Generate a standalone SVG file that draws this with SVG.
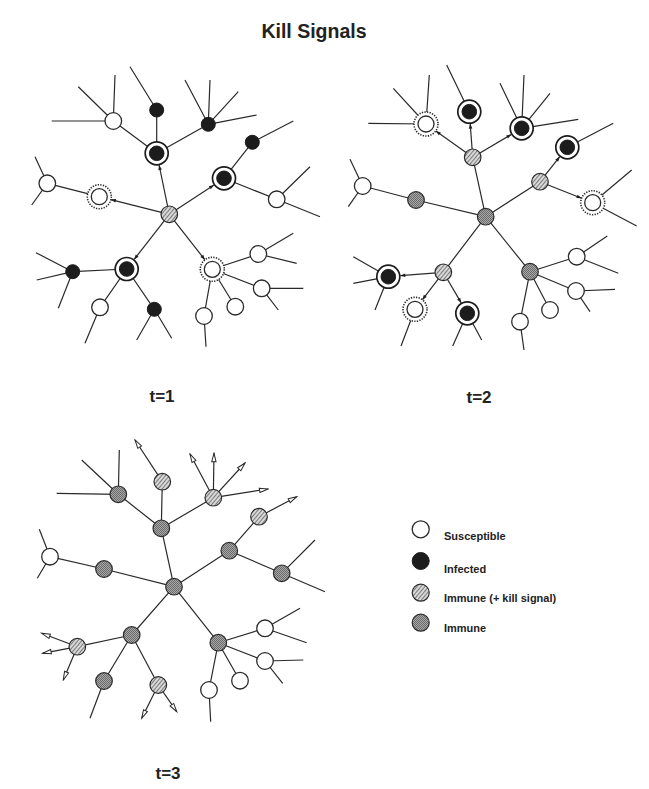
<svg xmlns="http://www.w3.org/2000/svg" width="649" height="789" viewBox="0 0 649 789">
<style>
.e{stroke:#2a2a2a;stroke-width:1.2;fill:none}
.ka{stroke:#2a2a2a;stroke-width:1.2;fill:none;marker-end:url(#ah)}
.oa{stroke:#2a2a2a;stroke-width:1.2;fill:none;marker-end:url(#open)}
.s{fill:#fff;stroke:#2a2a2a;stroke-width:1.3}
.i{fill:#1c1c1c;stroke:#1c1c1c;stroke-width:1}
.h{fill:url(#hatch);stroke:#2a2a2a;stroke-width:1.2}
.m{fill:url(#stip);stroke:#2a2a2a;stroke-width:1.2}
.ring{fill:#fff;stroke:#1c1c1c;stroke-width:1.7}
.dring{fill:#fff;stroke:#2a2a2a;stroke-width:1.6;stroke-dasharray:1.3 1.3}
text{font-family:"Liberation Sans",Arial,Helvetica,sans-serif;font-weight:bold;fill:#222}
.t{font-size:17px;text-anchor:middle}
.lg{font-size:11px}
</style>
<defs>
<pattern id="hatch" width="3" height="3" patternUnits="userSpaceOnUse" patternTransform="rotate(40)"><rect width="3" height="3" fill="#d8d8d8"/><rect width="1" height="3" fill="#7a7a7a"/></pattern>
<pattern id="stip" width="2" height="2" patternUnits="userSpaceOnUse"><rect width="2" height="2" fill="#a8a8a8"/><rect width="1" height="1" fill="#6a6a6a"/><rect x="1" y="1" width="1" height="1" fill="#6a6a6a"/></pattern>
<marker id="ah" markerUnits="userSpaceOnUse" markerWidth="8" markerHeight="8" viewBox="0 0 8 8" refX="7" refY="4" orient="auto"><path d="M2,2.2 L7,4 L2,5.8 Z" fill="#1c1c1c"/></marker>
<marker id="open" markerUnits="userSpaceOnUse" markerWidth="12" markerHeight="10" viewBox="0 0 12 10" refX="10.5" refY="5" orient="auto"><path d="M2,2.8 L10.5,5 L2,7.2 Z" fill="#fff" stroke="#2a2a2a" stroke-width="1"/></marker>
</defs>
<rect width="649" height="789" fill="#fff"/>
<text x="314" y="37.5" style="font-size:19.5px;text-anchor:middle">Kill Signals</text>

<g id="connectors">
<!-- t=1 -->
<line class="ka" x1="169.3" y1="214.3" x2="159.1" y2="165"/>
<line class="ka" x1="169.3" y1="214.3" x2="214" y2="184.9"/>
<line class="ka" x1="169.3" y1="214.3" x2="110.9" y2="199.6"/>
<line class="ka" x1="169.3" y1="214.3" x2="134.1" y2="259.5"/>
<line class="ka" x1="169.3" y1="214.3" x2="204.9" y2="259.8"/>
<path class="e" d="M156.7,153.3L156.7,110M156.7,153.3L113.3,121M156.7,153.3L208.3,124.3M156.7,110L130,66.7M113.3,121L51.7,121M113.3,121L78.3,86.7M113.3,121L115,75M208.3,124.3L185,80M208.3,124.3L210,80M208.3,124.3L238.3,91.7M208.3,124.3L256.7,115M224,178.3L252.3,142.3M252.3,142.3L293.3,121M224,178.3L276.7,199.3M276.7,199.3L310,166.7M276.7,199.3L320,216.7M99.3,196.7L47.3,183.3M47.3,183.3L35,156.7M47.3,183.3L31.7,205M126.7,269L72.7,271.7M126.7,269L100,307.3M126.7,269L154.3,309.3M72.7,271.7L36,252.7M72.7,271.7L36.7,280M72.7,271.7L58.3,308.3M100,307.3L85,343.3M154.3,309.3L136.7,340M154.3,309.3L171.7,338.3M212.3,269.3L258.3,254M212.3,269.3L261.7,288.3M212.3,269.3L235.3,306.7M212.3,269.3L204,316M258.3,254L293.3,233.3M258.3,254L296.7,263.3M261.7,288.3L303.3,288.3M261.7,288.3L278.3,310M204,316L206,346.7"/>
<!-- t=2 -->
<path class="e" d="M485.7,216.7L472.7,157.3M485.7,216.7L540,181.7M485.7,216.7L416,200M485.7,216.7L443.3,272.3M485.7,216.7L530,271.7M469.3,111.7L446.7,65M426,124L393.3,88.3M426,124L429.3,75M426,124L368.3,123.3M521.7,128.3L500,83.3M521.7,128.3L524,75M521.7,128.3L550,93.3M521.7,128.3L578.3,119.3M567.3,147.3L613.3,123.3M592.7,202.7L631.7,170M592.7,202.7L636.7,226M416,200L362.7,186M362.7,186L350,159.3M362.7,186L348.3,206.7M388.3,276.7L353.3,256.7M388.3,276.7L353.3,283.3M388.3,276.7L375,310M415,309.3L401,346M467.3,313.3L452.7,346M467.3,313.3L481.7,340M530,271.7L576.7,256.7M530,271.7L576,291M530,271.7L550,310M530,271.7L520,321.7M576.7,256.7L607.3,236M576.7,256.7L618.3,273.3M576,291L615,289.3M576,291L590,311.7M520,321.7L524,350"/>
<line class="ka" x1="472.7" y1="157.3" x2="470.2" y2="123.7"/>
<line class="ka" x1="472.7" y1="157.3" x2="435.8" y2="131"/>
<line class="ka" x1="472.7" y1="157.3" x2="511.4" y2="134.4"/>
<line class="ka" x1="540" y1="181.7" x2="559.8" y2="156.7"/>
<line class="ka" x1="540" y1="181.7" x2="581.6" y2="198.3"/>
<line class="ka" x1="443.3" y1="272.3" x2="400.3" y2="275.7"/>
<line class="ka" x1="443.3" y1="272.3" x2="422.3" y2="299.8"/>
<line class="ka" x1="443.3" y1="272.3" x2="461.2" y2="302.9"/>
<!-- t=3 -->
<path class="e" d="M174,586.7L161.3,528.3M174,586.7L229.3,550.7M174,586.7L104,569M174,586.7L131.7,635M174,586.7L218.3,642.7M161.3,528.3L162.3,481.7M161.3,528.3L118.3,494.3M161.3,528.3L213.3,497.7M118.3,494.3L81.7,460M118.3,494.3L119.3,450M118.3,494.3L56.7,493.3M229.3,550.7L259,516.7M229.3,550.7L281.7,573.3M281.7,573.3L315,540M281.7,573.3L325,591.7M104,569L50,556.7M50,556.7L39.3,529.3M50,556.7L37.3,578.3M131.7,635L77.3,646.7M131.7,635L104,681M131.7,635L158.3,685M104,681L90,718.3M218.3,642.7L265,628.3M218.3,642.7L265,661M218.3,642.7L240,680.7M218.3,642.7L209,690M265,628.3L300,608.3M265,628.3L306.7,642.7M265,661L303.3,660M265,661L282.7,683.3M209,690L210.7,721.7"/>
<line class="oa" x1="162.3" y1="481.7" x2="135" y2="440"/>
<line class="oa" x1="213.3" y1="497.7" x2="190" y2="454"/>
<line class="oa" x1="213.3" y1="497.7" x2="214" y2="453.3"/>
<line class="oa" x1="213.3" y1="497.7" x2="245" y2="463"/>
<line class="oa" x1="213.3" y1="497.7" x2="268" y2="489"/>
<line class="oa" x1="259" y1="516.7" x2="296.7" y2="496.7"/>
<line class="oa" x1="77.3" y1="646.7" x2="41.7" y2="633.3"/>
<line class="oa" x1="77.3" y1="646.7" x2="42.7" y2="653.3"/>
<line class="oa" x1="77.3" y1="646.7" x2="63.3" y2="680"/>
<line class="oa" x1="158.3" y1="685" x2="141.7" y2="718.3"/>
<line class="oa" x1="158.3" y1="685" x2="176.7" y2="711.7"/>
</g>

<!-- t=1 nodes -->
<g id="n1c"><circle class="h" cx="169.3" cy="214.3" r="8.3"/></g>
<g id="n1a"><circle class="ring" cx="156.7" cy="153.3" r="11.5"/><circle class="i" cx="156.7" cy="153.3" r="7.3"/></g>
<g id="n1b"><circle class="i" cx="156.7" cy="110" r="7"/></g>
<g id="n1d"><circle class="s" cx="113.3" cy="121" r="8.3"/></g>
<g id="n1e"><circle class="i" cx="208.3" cy="124.3" r="7"/></g>
<g id="n1f"><circle class="ring" cx="224" cy="178.3" r="11.5"/><circle class="i" cx="224" cy="178.3" r="7.3"/></g>
<g id="n1g"><circle class="i" cx="252.3" cy="142.3" r="7"/></g>
<g id="n1h"><circle class="s" cx="276.7" cy="199.3" r="8.3"/></g>
<g id="n1i"><circle class="dring" cx="99.3" cy="196.7" r="12"/><circle class="s" cx="99.3" cy="196.7" r="8"/></g>
<g id="n1j"><circle class="s" cx="47.3" cy="183.3" r="8.3"/></g>
<g id="n1k"><circle class="ring" cx="126.7" cy="269" r="11.5"/><circle class="i" cx="126.7" cy="269" r="7.3"/></g>
<g id="n1l"><circle class="i" cx="72.7" cy="271.7" r="7"/></g>
<g id="n1m"><circle class="s" cx="100" cy="307.3" r="8.3"/></g>
<g id="n1n"><circle class="i" cx="154.3" cy="309.3" r="7"/></g>
<g id="n1o"><circle class="dring" cx="212.3" cy="269.3" r="12"/><circle class="s" cx="212.3" cy="269.3" r="8"/></g>
<g id="n1p"><circle class="s" cx="258.3" cy="254" r="8.3"/></g>
<g id="n1q"><circle class="s" cx="261.7" cy="288.3" r="8.3"/></g>
<g id="n1r"><circle class="s" cx="235.3" cy="306.7" r="8.3"/></g>
<g id="n1s"><circle class="s" cx="204" cy="316" r="8.3"/></g>

<!-- t=2 nodes -->
<g id="n2c"><circle class="m" cx="485.7" cy="216.7" r="8.3"/></g>
<g id="n2a"><circle class="h" cx="472.7" cy="157.3" r="8.3"/></g>
<g id="n2b"><circle class="ring" cx="469.3" cy="111.7" r="11.5"/><circle class="i" cx="469.3" cy="111.7" r="7.3"/></g>
<g id="n2d"><circle class="dring" cx="426" cy="124" r="12"/><circle class="s" cx="426" cy="124" r="8"/></g>
<g id="n2e"><circle class="ring" cx="521.7" cy="128.3" r="11.5"/><circle class="i" cx="521.7" cy="128.3" r="7.3"/></g>
<g id="n2f"><circle class="h" cx="540" cy="181.7" r="8.3"/></g>
<g id="n2g"><circle class="ring" cx="567.3" cy="147.3" r="11.5"/><circle class="i" cx="567.3" cy="147.3" r="7.3"/></g>
<g id="n2h"><circle class="dring" cx="592.7" cy="202.7" r="12"/><circle class="s" cx="592.7" cy="202.7" r="8"/></g>
<g id="n2i"><circle class="m" cx="416" cy="200" r="8.3"/></g>
<g id="n2j"><circle class="s" cx="362.7" cy="186" r="8.3"/></g>
<g id="n2k"><circle class="h" cx="443.3" cy="272.3" r="8.3"/></g>
<g id="n2l"><circle class="ring" cx="388.3" cy="276.7" r="11.5"/><circle class="i" cx="388.3" cy="276.7" r="7.3"/></g>
<g id="n2m"><circle class="dring" cx="415" cy="309.3" r="12"/><circle class="s" cx="415" cy="309.3" r="8"/></g>
<g id="n2n"><circle class="ring" cx="467.3" cy="313.3" r="11.5"/><circle class="i" cx="467.3" cy="313.3" r="7.3"/></g>
<g id="n2o"><circle class="m" cx="530" cy="271.7" r="8.3"/></g>
<g id="n2p"><circle class="s" cx="576.7" cy="256.7" r="8.3"/></g>
<g id="n2q"><circle class="s" cx="576" cy="291" r="8.3"/></g>
<g id="n2r"><circle class="s" cx="550" cy="310" r="8.3"/></g>
<g id="n2s"><circle class="s" cx="520" cy="321.7" r="8.3"/></g>

<!-- t=3 nodes -->
<g id="n3c"><circle class="m" cx="174" cy="586.7" r="8.3"/></g>
<g id="n3a"><circle class="m" cx="161.3" cy="528.3" r="8.3"/></g>
<g id="n3b"><circle class="h" cx="162.3" cy="481.7" r="8.3"/></g>
<g id="n3d"><circle class="m" cx="118.3" cy="494.3" r="8.3"/></g>
<g id="n3e"><circle class="h" cx="213.3" cy="497.7" r="8.3"/></g>
<g id="n3f"><circle class="m" cx="229.3" cy="550.7" r="8.3"/></g>
<g id="n3g"><circle class="h" cx="259" cy="516.7" r="8.3"/></g>
<g id="n3h"><circle class="m" cx="281.7" cy="573.3" r="8.3"/></g>
<g id="n3i"><circle class="m" cx="104" cy="569" r="8.3"/></g>
<g id="n3j"><circle class="s" cx="50" cy="556.7" r="8.3"/></g>
<g id="n3k"><circle class="m" cx="131.7" cy="635" r="8.3"/></g>
<g id="n3l"><circle class="h" cx="77.3" cy="646.7" r="8.3"/></g>
<g id="n3m"><circle class="m" cx="104" cy="681" r="8.3"/></g>
<g id="n3n"><circle class="h" cx="158.3" cy="685" r="8.3"/></g>
<g id="n3o"><circle class="m" cx="218.3" cy="642.7" r="8.3"/></g>
<g id="n3p"><circle class="s" cx="265" cy="628.3" r="8.3"/></g>
<g id="n3q"><circle class="s" cx="265" cy="661" r="8.3"/></g>
<g id="n3r"><circle class="s" cx="240" cy="680.7" r="8.3"/></g>
<g id="n3s"><circle class="s" cx="209" cy="690" r="8.3"/></g>

<text class="t" x="162" y="402">t=1</text>
<text class="t" x="479" y="403">t=2</text>
<text class="t" x="168" y="779">t=3</text>

<g id="legend">
<g id="lg-s"><circle class="s" cx="420.7" cy="529.3" r="8.5"/><text class="lg" x="444" y="539.5">Susceptible</text></g>
<g id="lg-i"><circle class="i" cx="420.7" cy="561" r="8.5"/><text class="lg" x="444" y="572.7">Infected</text></g>
<g id="lg-h"><circle class="h" cx="420.7" cy="592.7" r="8.5"/><text class="lg" x="444" y="601.5">Immune (+ kill signal)</text></g>
<g id="lg-m"><circle class="m" cx="420.7" cy="622.7" r="8.5"/><text class="lg" x="444" y="632">Immune</text></g>
</g>
</svg>
